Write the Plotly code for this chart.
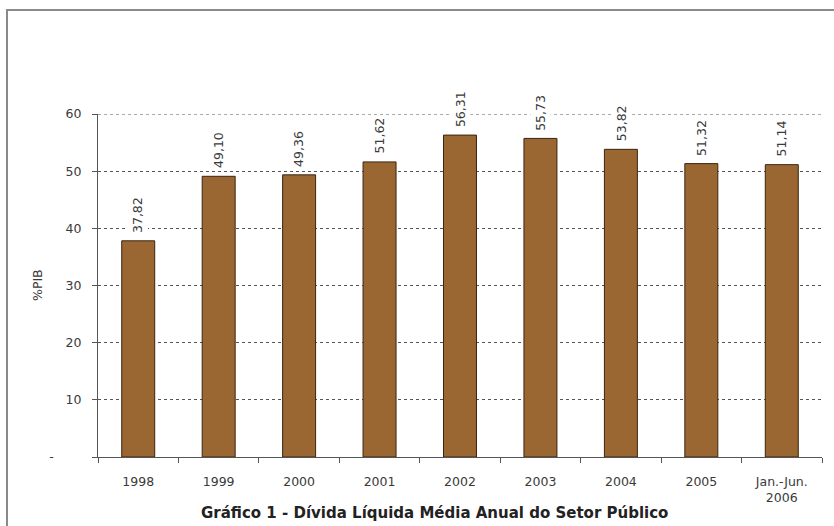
import plotly.graph_objects as go

categories = ["1998", "1999", "2000", "2001", "2002", "2003", "2004", "2005", "Jan.-Jun.<br>2006"]
values = [37.82, 49.10, 49.36, 51.62, 56.31, 55.73, 53.82, 51.32, 51.14]
labels = ["37,82", "49,10", "49,36", "51,62", "56,31", "55,73", "53,82", "51,32", "51,14"]
y_tickvals = [0, 10, 20, 30, 40, 50, 60]
y_ticktext = ["-\u00a0\u00a0\u00a0\u00a0\u00a0\u00a0\u00a0", "10", "20", "30", "40", "50", "60"]
y_title = "%PIB"
caption = "Gráfico 1 - Dívida Líquida Média Anual do Setor Público"

W, H = 834, 526
L, R, T, B = 98, 12, 114, 69
pw, ph = W - L - R, H - T - B
FONT = "DejaVu Sans, Verdana, sans-serif"
TXT = "#3a3a3a"

def px_x(p):
    return (p - L) / pw

def px_y(p):
    return (H - B - p) / ph

fig = go.Figure()
fig.add_trace(go.Bar(
    x=categories, y=values,
    marker=dict(color="#9a6632", line=dict(color="#3a2510", width=1)),
    width=0.41,
))

for i, (v, t) in enumerate(zip(values, labels)):
    fig.add_annotation(
        x=i, y=v, text=t, textangle=-90, showarrow=False,
        xanchor="center", yanchor="bottom", yshift=5,
        bgcolor="white", borderpad=2,
        font=dict(family=FONT, size=12.5, color=TXT),
    )

fig.update_layout(
    width=W, height=H,
    margin=dict(l=L, r=R, t=T, b=B),
    paper_bgcolor="white", plot_bgcolor="white",
    showlegend=False,
    font=dict(family=FONT, size=12.5, color=TXT),
    xaxis=dict(
        type="category", range=[-0.5, len(categories) - 0.5],
        tickson="boundaries", ticks="outside", ticklen=5,
        tickcolor="#555555", showline=True, linecolor="#555555", linewidth=1,
        showgrid=False, tickfont=dict(family=FONT, size=12.5, color=TXT),
        ticklabelstandoff=13,
    ),
    yaxis=dict(
        range=[0, 60], tickvals=y_tickvals, ticktext=y_ticktext,
        ticks="outside", ticklen=5, tickcolor="#555555",
        showline=True, linecolor="#555555", linewidth=1,
        showgrid=True, gridcolor="#555555", griddash="dot", gridwidth=1,
        zeroline=False, ticklabelstandoff=8,
        tickfont=dict(family=FONT, size=12.5, color=TXT),
    ),
    bargap=0.59,
)

# top gridline at 60 (plotly omits a grid line sitting on the range edge)
fig.add_shape(
    type="line", xref="paper", yref="y", x0=0, x1=1, y0=y_tickvals[-1], y1=y_tickvals[-1],
    line=dict(color="#555555", width=1, dash="dot"), layer="below",
)

fig.add_annotation(
    text=y_title, xref="paper", yref="paper",
    x=px_x(37), y=px_y(285), textangle=-90, showarrow=False,
    font=dict(family=FONT, size=12.5, color=TXT), xanchor="center", yanchor="middle",
)
fig.add_annotation(
    text="<b>" + caption + "</b>", xref="paper", yref="paper",
    x=px_x(434), y=px_y(513), showarrow=False,
    font=dict(family=FONT, size=15, color="#222222"), xanchor="center", yanchor="middle",
)
fig.add_shape(
    type="rect", xref="paper", yref="paper",
    x0=px_x(7), y0=px_y(540), x1=px_x(845), y1=px_y(10),
    line=dict(color="#8a8a8a", width=2), layer="below",
)

fig.write_html(
    "out.html",
    config={"displayModeBar": False},
    post_script="document.body.style.margin='0px';document.body.style.overflow='hidden';",
)
